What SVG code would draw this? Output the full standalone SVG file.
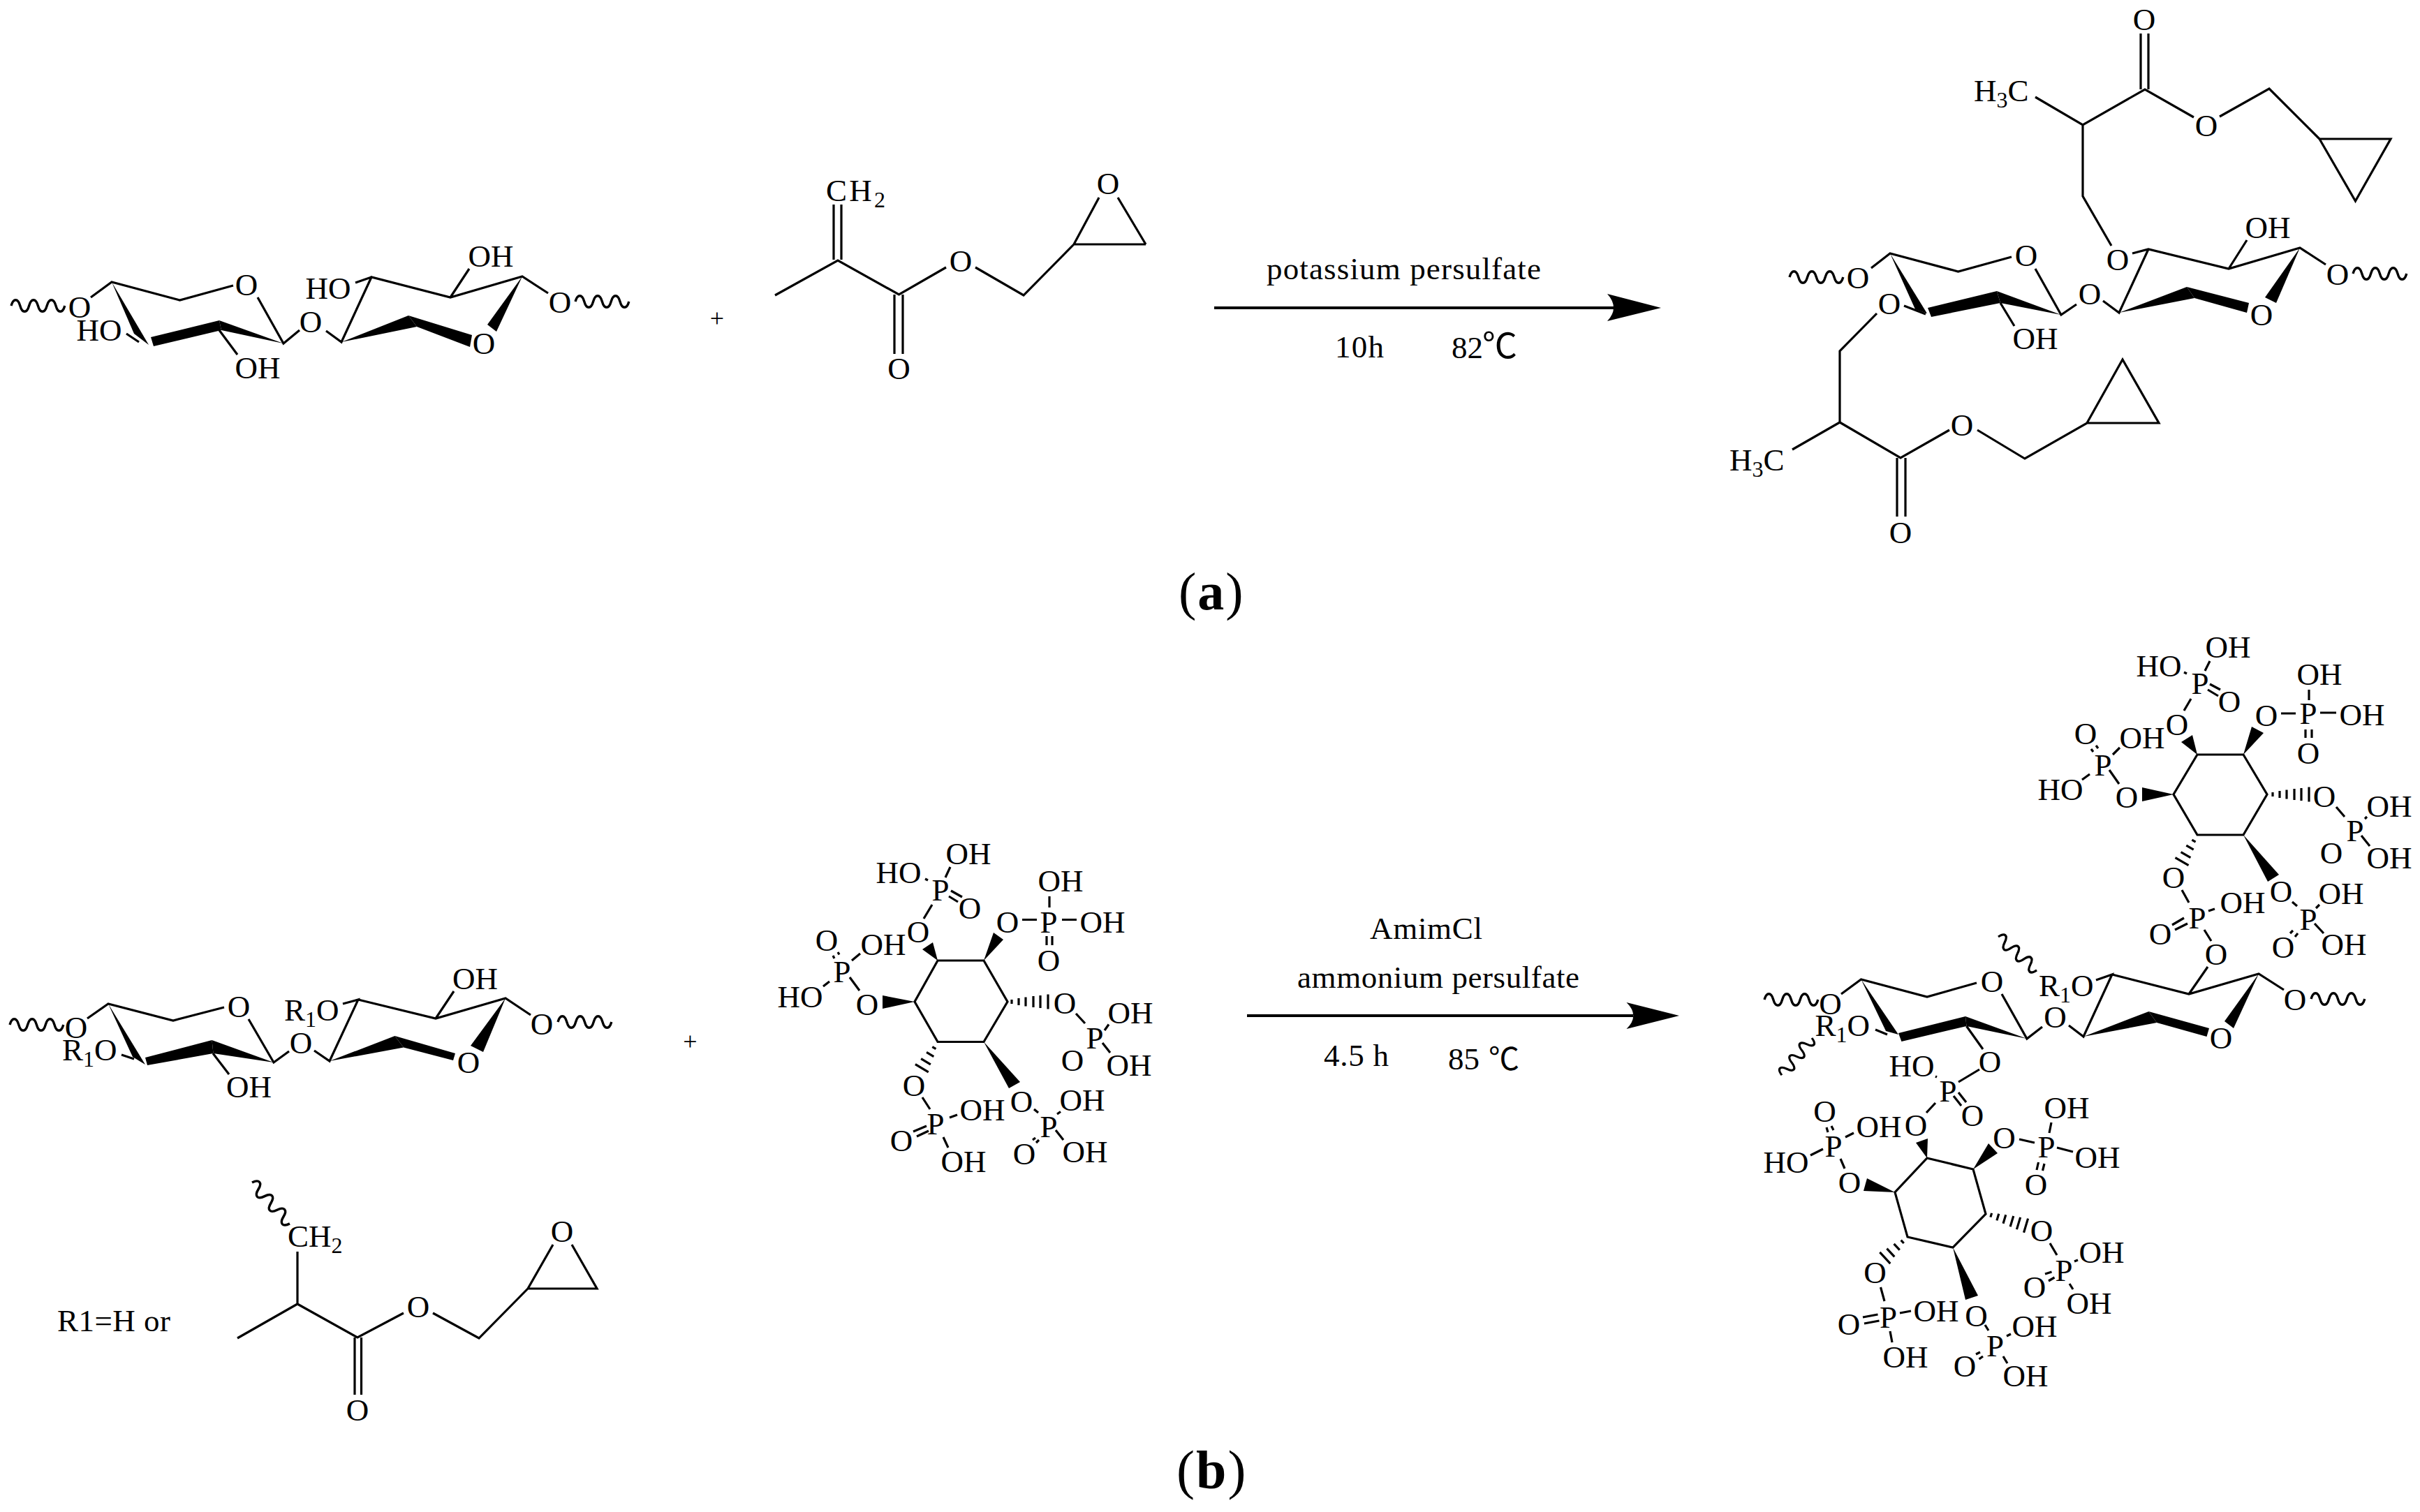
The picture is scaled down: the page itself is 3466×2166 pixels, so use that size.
<svg xmlns="http://www.w3.org/2000/svg" xmlns:xlink="http://www.w3.org/1999/xlink" width="3466" height="2166" viewBox="0 0 3466 2166">
<style>
text{font-family:"Liberation Serif","Times New Roman",serif;font-size:45px;fill:#000}
.t{text-anchor:middle;dominant-baseline:central}
.s{font-size:32px}
.b{fill:none;stroke:#000;stroke-width:3.2;stroke-linecap:butt;stroke-linejoin:miter}
.q{fill:none;stroke:#000;stroke-width:3.4}
.w{fill:#000;stroke:none}
.h{fill:none;stroke:#000;stroke-width:3.2}
.c{font-family:"Noto Sans CJK SC","Liberation Sans",sans-serif}
.l{font-size:76px;letter-spacing:2px}
.a{fill:none;stroke:#000;stroke-width:4}
</style>
<defs>
<path id="sq" class="q" d="M0,0c3,-11 9.8,-11 12.8,0s9.8,11 12.8,0s9.8,-11 12.8,0s9.8,11 12.8,0s9.8,-11 12.8,0s9.8,11 12.8,0"/>
<path id="hash6" class="h" d="M6,-3V3M16,-5V5M26,-6.5V6.5M37,-8V8M47,-9V9M58,-10.5V10.5"/>
<path id="hash4" class="h" d="M10,-3V3M21,-6V6M33,-8V8M44,-11V11"/>
</defs>
<rect width="3466" height="2166" fill="#fff"/>

<g id="saccharide-a">
<path class="b" d="M130,426L160,404L257.5,430L334,409M369,426L406,492L429,473M467,474L489,490L532,397L645,426L748,396L785,420M645,426L672,385M509,405L532,397M314,473L340,508M181,478L199,490"/>
<polygon class="w" points="160,404 192,478 213,494"/>
<polygon class="w" points="216,483 314,459 317,473 220,496"/>
<polygon class="w" points="314,459 406,492 317,473"/>
<polygon class="w" points="489,490 585,452 597,468"/>
<polygon class="w" points="585,452 597,468 673,497 676,480"/>
<polygon class="w" points="748,396 698,465 711,475"/>
<use xlink:href="#sq" href="#sq" x="16" y="438"/><use xlink:href="#sq" href="#sq" x="824" y="432"/>
<text class="t" x="114" y="440">O</text><text class="t" x="142" y="473">HO</text><text class="t" x="353" y="408">O</text><text class="t" x="369" y="527">OH</text><text class="t" x="445" y="461">O</text><text class="t" x="470" y="413">HO</text><text class="t" x="703" y="367">OH</text><text class="t" x="693" y="492">O</text><text class="t" x="802" y="433">O</text>
</g>

<g id="monomer-a">
<path class="b" d="M1194,293V372M1205,293V372M1110,423L1200,373L1287.5,422L1355,383M1281,422V507M1293,422V507M1397,383L1466,423L1538,350M1538,350H1641M1574,283L1538,350M1601,283L1641,350"/>
<text x="1183" y="288" textLength="85">CH<tspan class="s" dy="9">2</tspan></text>
<text class="t" x="1587" y="263">O</text><text class="t" x="1376" y="374">O</text><text class="t" x="1287.5" y="528">O</text>
</g>
<g id="plus-a"><text class="t" x="1027" y="456" style="font-size:36px">+</text></g>

<g id="product-a">
<path class="b" d="M3066,48V128M3077,48V128M2915,139L2983,179L3072,128L3142,168M3179,167L3250,127L3322,199M3322,199H3424L3373.5,288L3322,199M2983,179V281L3024,352M3054,363L3077,357L3192,385L3294,355L3331,379M3192,385L3218,344M3077,357L3035,448L3012,431M2974,436L2952,451L2915,385M2881,368L2804.5,389L2707,363L2680,384M2865,434L2885,467M2727,438L2758,450M2688,449L2635,503V605L2567,644M2635,605L2722,656L2792,616M2717,656V740M2729,656V740M2832,616L2900,657L2989,606H3092L3040,515L2989,606"/>
<polygon class="w" points="3294,355 3244,426 3260,434"/>
<polygon class="w" points="3035,448 3132,411 3143,427"/>
<polygon class="w" points="3132,411 3143,427 3218,448 3221,434"/>
<polygon class="w" points="2952,451 2860,417 2865,434"/>
<polygon class="w" points="2860,417 2865,434 2766,454 2761,441"/>
<polygon class="w" points="2707,363 2743,443 2760,449"/>
<use xlink:href="#sq" href="#sq" x="2563" y="397"/><use xlink:href="#sq" href="#sq" x="3370" y="392"/>
<text class="t" x="3071" y="28">O</text>
<text x="2827" y="145">H<tspan class="s" dy="9">3</tspan><tspan dy="-9">C</tspan></text>
<text class="t" x="3160" y="180">O</text><text class="t" x="3033" y="372">O</text><text class="t" x="3248" y="326">OH</text><text class="t" x="3348" y="393">O</text><text class="t" x="3239" y="451">O</text><text class="t" x="2993" y="421">O</text><text class="t" x="2902" y="366">O</text><text class="t" x="2915" y="485">OH</text><text class="t" x="2706" y="435">O</text><text class="t" x="2661" y="398">O</text>
<text x="2477" y="674">H<tspan class="s" dy="9">3</tspan><tspan dy="-9">C</tspan></text>
<text class="t" x="2722" y="763">O</text><text class="t" x="2810" y="609">O</text>
</g>

<g id="saccharide-b">
<path class="b" d="M125,1459L155,1438L248,1462L321,1443M356,1460L392,1522L414,1506M450,1505L472,1520L513,1432L491,1438M513,1432L624,1459L724,1430L760,1454M624,1459L650,1420M174,1511L192,1517M305,1509L328,1539"/>
<polygon class="w" points="155,1438 190,1514 208,1525"/>
<polygon class="w" points="303.5,1490 305.5,1509 211,1526 208,1515"/>
<polygon class="w" points="392,1522 303.5,1490 305.5,1509"/>
<polygon class="w" points="472,1520 565.5,1484 578,1500.5"/>
<polygon class="w" points="565.5,1484 578,1500.5 649,1519 652,1509"/>
<polygon class="w" points="724,1430 674,1498 692,1507"/>
<use xlink:href="#sq" href="#sq" x="14" y="1468"/><use xlink:href="#sq" href="#sq" x="799" y="1464"/>
<text class="t" x="109" y="1472">O</text>
<text x="89" y="1519">R<tspan class="s" dy="9">1</tspan><tspan dy="-9">O</tspan></text>
<text class="t" x="342" y="1442">O</text><text class="t" x="356.5" y="1557">OH</text><text class="t" x="431" y="1494">O</text>
<text x="407" y="1462">R<tspan class="s" dy="9">1</tspan><tspan dy="-9">O</tspan></text>
<text class="t" x="680.5" y="1402">OH</text><text class="t" x="776" y="1467">O</text><text class="t" x="671" y="1522">O</text>
</g>
<g id="plus-b"><text class="t" x="988.5" y="1492" style="font-size:36px">+</text></g>

<g id="r1-definition">
<text x="82" y="1907" textLength="162">R1=H or</text>
<use xlink:href="#sq" href="#sq" transform="translate(361,1694) rotate(47.5) scale(1.04,1)"/>
<path class="b" d="M426,1793V1868L340,1917M426,1868L512,1916L578,1881M508,1916V1998M517.5,1916V1998M620,1881L686,1917L756,1846H855L819,1783M792,1783L756,1846"/>
<text x="412" y="1786">CH<tspan class="s" dy="9">2</tspan></text>
<text class="t" x="512" y="2020">O</text><text class="t" x="599" y="1872">O</text><text class="t" x="805" y="1764">O</text>
</g>

<g id="phytic-acid">
<path class="b" d="M1343,1376H1409L1443,1435L1409,1492.5H1343L1310,1435ZM1323,1316L1335,1296M1325,1259L1329,1261M1354,1257L1361,1242M1362,1276L1378,1285M1359,1284L1372,1292M1464,1317.5H1485M1503,1284V1300M1521,1317.5H1542M1499,1341V1354M1507,1341V1354M1541,1452L1554,1466M1582,1476L1588,1467.5M1579,1494L1590,1508M1481,1589L1487,1594M1514,1596L1519,1592.5M1512,1619L1523,1633M1479,1633L1483,1630M1484,1637L1488,1633M1321,1572L1332,1589M1360,1601L1371,1597M1308,1621L1327,1613M1313,1628L1330,1620M1351,1629L1358,1644M1231,1419L1217,1400M1193,1369L1195,1373M1200,1364L1202,1367.5M1220,1376L1232,1366M1179,1413L1188,1406"/>
<polygon class="w" points="1343,1376 1321,1360 1336,1350"/>
<polygon class="w" points="1409,1376 1423,1336 1437,1346"/>
<polygon class="w" points="1409,1492.5 1445,1559 1461,1550"/>
<polygon class="w" points="1310,1435 1264,1426 1264,1445"/>
<use xlink:href="#hash6" href="#hash6" x="1443" y="1435"/>
<use xlink:href="#hash4" href="#hash4" transform="translate(1343,1492.5) rotate(121)"/>
<text class="t" x="1315" y="1335">O</text><text class="t" x="1347" y="1275">P</text><text class="t" x="1287" y="1250">HO</text><text class="t" x="1387" y="1223">OH</text><text class="t" x="1389" y="1301">O</text>
<text class="t" x="1443" y="1321">O</text><text class="t" x="1502" y="1321">P</text><text class="t" x="1519" y="1262">OH</text><text class="t" x="1579" y="1321">OH</text><text class="t" x="1502" y="1376">O</text>
<text class="t" x="1525" y="1437">O</text><text class="t" x="1568" y="1487">P</text><text class="t" x="1619" y="1451">OH</text><text class="t" x="1617" y="1526">OH</text><text class="t" x="1536" y="1519">O</text>
<text class="t" x="1463" y="1578">O</text><text class="t" x="1502" y="1614">P</text><text class="t" x="1550" y="1576">OH</text><text class="t" x="1554" y="1650">OH</text><text class="t" x="1467" y="1653">O</text>
<text class="t" x="1309" y="1555">O</text><text class="t" x="1340" y="1610">P</text><text class="t" x="1407" y="1590">OH</text><text class="t" x="1291" y="1634">O</text><text class="t" x="1380" y="1664">OH</text>
<text class="t" x="1242" y="1439">O</text><text class="t" x="1206" y="1392">P</text><text class="t" x="1184" y="1347">O</text><text class="t" x="1265" y="1353">OH</text><text class="t" x="1146" y="1428">HO</text>
</g>

<g id="product-b-saccharide">
<path class="b" d="M2637,1424L2665.5,1403L2760,1428L2831,1408M2867,1424L2903,1488L2925,1471M2963,1469L2984,1485L3025,1396L3002,1404M3025,1396L3135,1424L3235,1395L3271,1418M3135,1424L3162,1385M2686,1475L2703,1482M2816.5,1470L2840,1503M2835,1532L2805,1550"/>
<polygon class="w" points="2665.5,1403 2701,1477 2719,1482"/>
<polygon class="w" points="2815,1456 2816.5,1470 2723.4,1492 2719,1480"/>
<polygon class="w" points="2903,1488 2815,1456 2816.5,1470"/>
<polygon class="w" points="2984,1485 3077.5,1449 3089,1465"/>
<polygon class="w" points="3077.5,1449 3089,1465 3160.5,1485 3164,1473"/>
<polygon class="w" points="3235,1395 3186,1463 3199,1473"/>
<use xlink:href="#sq" href="#sq" x="2527" y="1432"/><use xlink:href="#sq" href="#sq" x="3310" y="1431"/>
<use xlink:href="#sq" href="#sq" transform="translate(2862,1342) rotate(41) scale(.95,1)"/>
<use xlink:href="#sq" href="#sq" transform="translate(2595,1487) rotate(129) scale(.89,1)"/>
<text class="t" x="2621.5" y="1438">O</text>
<text x="2599.5" y="1484">R<tspan class="s" dy="9">1</tspan><tspan dy="-9">O</tspan></text>
<text class="t" x="2853" y="1406">O</text><text class="t" x="2850" y="1521">O</text><text class="t" x="2943.5" y="1457">O</text>
<text x="2920" y="1427">R<tspan class="s" dy="9">1</tspan><tspan dy="-9">O</tspan></text>
<text class="t" x="3287" y="1432">O</text><text class="t" x="3181" y="1487">O</text>
</g>

<g id="product-b-phytate-upper">
<path class="b" d="M3147,1081H3213L3247,1138L3213,1196H3147L3113,1138ZM3128,1018L3138,1001M3128,963L3132,965M3158,961L3165,947M3165,980L3180,988M3162,988L3177,997M3267,1022H3288M3307,988V1003M3323,1021H3346M3302,1045V1057M3311,1045V1057M3346,1156L3358,1170M3387,1173L3390,1170M3382,1197L3394,1212M3283,1292L3290,1298M3317,1301L3322,1296M3315,1323L3328,1337M3280,1337L3284,1333M3287,1342L3291,1337M3125,1275L3135,1293M3163,1305L3172,1302M3111,1325L3128,1315M3115,1332L3133,1323M3157,1332L3167,1348M3035,1123L3021,1103M2995,1073L2998,1077M3002,1068L3005,1072M3026,1081L3036,1071M2982,1117L2993,1109"/>
<polygon class="w" points="3147,1081 3124,1063 3140,1053"/>
<polygon class="w" points="3213,1081 3225,1041 3242,1050"/>
<polygon class="w" points="3213,1196 3248,1263 3264,1253"/>
<polygon class="w" points="3113,1138 3068,1128 3068,1148"/>
<use xlink:href="#hash6" href="#hash6" x="3249" y="1138"/>
<use xlink:href="#hash4" href="#hash4" transform="translate(3147,1196) rotate(120)"/>
<text class="t" x="3118" y="1038">O</text><text class="t" x="3151" y="979">P</text><text class="t" x="3092" y="954">HO</text><text class="t" x="3191" y="927">OH</text><text class="t" x="3193" y="1005">O</text>
<text class="t" x="3246" y="1025">O</text><text class="t" x="3306" y="1022">P</text><text class="t" x="3322" y="966">OH</text><text class="t" x="3383" y="1024">OH</text><text class="t" x="3306" y="1079">O</text>
<text class="t" x="3329" y="1141">O</text><text class="t" x="3373" y="1190">P</text><text class="t" x="3422" y="1155">OH</text><text class="t" x="3422" y="1229">OH</text><text class="t" x="3339" y="1222">O</text>
<text class="t" x="3267" y="1277">O</text><text class="t" x="3306" y="1317">P</text><text class="t" x="3353" y="1280">OH</text><text class="t" x="3357" y="1353">OH</text><text class="t" x="3270" y="1357">O</text>
<text class="t" x="3113" y="1257">O</text><text class="t" x="3147" y="1315">P</text><text class="t" x="3212" y="1293">OH</text><text class="t" x="3094" y="1338">O</text><text class="t" x="3174" y="1367">O</text>
<text class="t" x="3046" y="1142">O</text><text class="t" x="3012" y="1096">P</text><text class="t" x="2987" y="1051">O</text><text class="t" x="3068" y="1057">OH</text><text class="t" x="2951" y="1131">HO</text>
</g>

<g id="product-b-phytate-lower">
<path class="b" d="M2760,1659L2826,1675L2844,1739L2797,1787L2732,1772L2714,1708ZM2772,1542L2774,1543M2805,1565L2816,1579M2798,1570L2809,1584M2772,1580L2759,1594M2892,1632L2914,1637M2935,1623L2938,1608M2946,1644L2969,1650M2919.5,1665L2917,1676M2928,1667L2925.5,1677M2936,1781L2946,1798M2971,1807L2976,1805M2929,1825L2938.5,1822M2934,1835L2942.5,1830M2964,1839L2969,1847M2843,1898L2848,1906M2874,1914L2880,1911M2830,1940L2836,1937M2834.5,1947L2840,1943M2869,1943L2875,1953M2693.5,1844L2699,1864M2721,1881L2737,1878M2668,1887L2689.5,1883M2670,1896L2691.5,1892M2707,1907L2710,1923M2642,1674L2636,1660M2616,1615L2618,1622M2623,1613L2626,1619M2643,1629L2655,1623M2593,1655L2611,1646"/>
<polygon class="w" points="2760,1659 2744,1637 2761,1631"/>
<polygon class="w" points="2826,1675 2848,1638 2861,1652"/>
<polygon class="w" points="2797,1787 2815,1862 2833,1856"/>
<polygon class="w" points="2714,1708 2674,1688 2669,1706"/>
<use xlink:href="#hash6" href="#hash6" transform="translate(2846,1739) rotate(16.7)"/>
<use xlink:href="#hash4" href="#hash4" transform="translate(2732,1772) rotate(137)"/>
<text class="t" x="2738" y="1527">HO</text><text class="t" x="2790" y="1563">P</text><text class="t" x="2825" y="1598">O</text><text class="t" x="2744" y="1612">O</text>
<text class="t" x="2870.5" y="1630">O</text><text class="t" x="2931" y="1643">P</text><text class="t" x="2960" y="1587">OH</text><text class="t" x="3004" y="1658">OH</text><text class="t" x="2916" y="1697">O</text>
<text class="t" x="2924" y="1763">O</text><text class="t" x="2956" y="1820">P</text><text class="t" x="3010" y="1794">OH</text><text class="t" x="2914" y="1844">O</text><text class="t" x="2992" y="1867">OH</text>
<text class="t" x="2830.6" y="1885">O</text><text class="t" x="2857.5" y="1928">P</text><text class="t" x="2914" y="1900">OH</text><text class="t" x="2814" y="1957">O</text><text class="t" x="2901" y="1971">OH</text>
<text class="t" x="2685.5" y="1823">O</text><text class="t" x="2704.5" y="1887">P</text><text class="t" x="2773" y="1878">OH</text><text class="t" x="2648" y="1897">O</text><text class="t" x="2729" y="1944">OH</text>
<text class="t" x="2649" y="1694">O</text><text class="t" x="2626" y="1642">P</text><text class="t" x="2613.6" y="1592">O</text><text class="t" x="2691" y="1614">OH</text><text class="t" x="2558" y="1665">HO</text>
</g>

<g id="connectors">
<g id="arrow-a"><path class="a" d="M1739,441H2315"/><path class="w" d="M2379,441L2302,421Q2320,441 2302,460Z"/></g>
<g id="arrow-b"><path class="a" d="M1786,1455H2339"/><path class="w" d="M2405,1455L2329.5,1436Q2349,1455 2329.5,1474Z"/></g>
</g>

<g id="conditions-a">
<text x="1814" y="400" textLength="393">potassium persulfate</text>
<text x="1912" y="512" textLength="70">10h</text>
<text x="2079" y="513">82</text><text class="c" x="2123" y="513" style="font-size:50px">℃</text>
</g>
<g id="conditions-b">
<text x="1962" y="1345" textLength="161">AmimCl</text>
<text x="1858" y="1415" textLength="404">ammonium persulfate</text>
<text x="1896" y="1527" textLength="93">4.5 h</text>
<text x="2074" y="1532">85</text><text class="c" x="2132" y="1533" style="font-size:44px">℃</text>
</g>
<g id="panel-labels">
<text class="l" x="1688" y="873">(<tspan font-weight="bold">a</tspan>)</text>
<text class="l" x="1685" y="2132" style="font-size:78px">(<tspan font-weight="bold">b</tspan>)</text>
</g>
</svg>
